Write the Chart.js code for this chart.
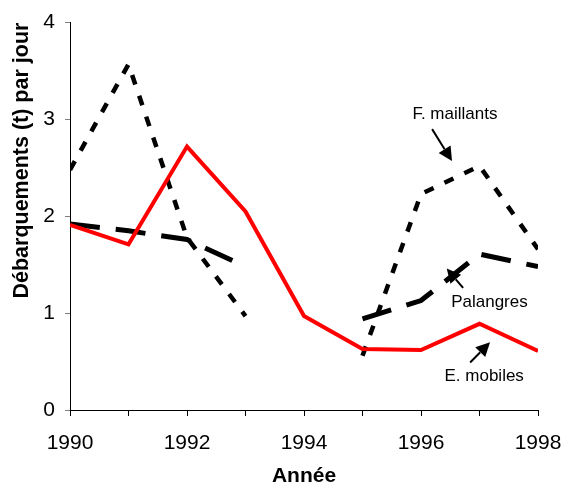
<!DOCTYPE html>
<html><head><meta charset="utf-8">
<script src="https://cdn.jsdelivr.net/npm/chart.js@4"></script>
<style>html,body{margin:0;padding:0;background:#fff}#wrap{width:568px;height:489px}</style>
</head><body><div id="wrap"><canvas id="c" width="568" height="489"></canvas></div>
<script>
const years = [1990,1991,1992,1993,1994,1995,1996,1997,1998];
const eMobiles = [1.91,1.71,2.72,2.05,0.97,0.63,0.62,0.89,0.61];
const fMaillants = [2.48,3.57,1.78,0.97,null,0.56,2.23,2.52,1.66];
const palangres = [1.92,1.85,1.76,1.48,null,0.94,1.13,1.61,1.48];
const xTickLabels = ['1990','1992','1994','1996','1998'];
const yTicks = [0,1,2,3,4];
const annotations = [
  {text:'F. maillants', x:1996.58, y:3.05, from:[1996.19,2.90], to:[1996.53,2.57]},
  {text:'Palangres', x:1997.17, y:1.11, from:[1996.72,1.26], to:[1996.44,1.46]},
  {text:'E. mobiles', x:1997.08, y:0.35, from:[1996.84,0.49], to:[1997.18,0.70]}
];
const toXY = (ys) => years.map((x,i)=>({x:x, y:ys[i]}));
const FONT = '"Liberation Sans", Arial, sans-serif';

const annotPlugin = {
  id:'annot',
  afterDraw(chart){
    const ctx = chart.ctx, xs = chart.scales.x, ys = chart.scales.y;
    ctx.save();
    ctx.font = '17px ' + FONT;
    ctx.fillStyle = '#000'; ctx.textAlign='center'; ctx.textBaseline='middle';
    annotations.forEach(a=>{
      ctx.fillText(a.text, xs.getPixelForValue(a.x), ys.getPixelForValue(a.y));
      const x1=xs.getPixelForValue(a.from[0]), y1=ys.getPixelForValue(a.from[1]);
      const x2=xs.getPixelForValue(a.to[0]), y2=ys.getPixelForValue(a.to[1]);
      const ang=Math.atan2(y2-y1,x2-x1), hl=14, hw=7;
      const bx=x2-hl*Math.cos(ang), by=y2-hl*Math.sin(ang);
      ctx.strokeStyle='#000'; ctx.lineWidth=2;
      ctx.beginPath(); ctx.moveTo(x1,y1); ctx.lineTo(bx,by); ctx.stroke();
      ctx.beginPath(); ctx.moveTo(x2,y2);
      ctx.lineTo(bx+hw*Math.sin(ang), by-hw*Math.cos(ang));
      ctx.lineTo(bx-hw*Math.sin(ang), by+hw*Math.cos(ang));
      ctx.closePath(); ctx.fill();
    });
    ctx.restore();
  }
};

new Chart(document.getElementById('c'), {
  type:'line',
  data:{datasets:[
    {label:'E. mobiles', data:toXY(eMobiles), borderColor:'#ff0000', borderWidth:4, pointRadius:0, spanGaps:false, tension:0},
    {label:'F. maillants', data:toXY(fMaillants), borderColor:'#000', borderWidth:4.5, borderDash:[10,12], pointRadius:0, spanGaps:false, tension:0},
    {label:'Palangres', data:toXY(palangres), borderColor:'#000', borderWidth:5, borderDash:[30,16], pointRadius:0, spanGaps:false, tension:0}
  ]},
  plugins:[annotPlugin],
  options:{
    responsive:false, animation:false, devicePixelRatio:1,
    layout:{padding:{top:20,right:30,left:0,bottom:0}},
    plugins:{legend:{display:false}, tooltip:{enabled:false}},
    scales:{
      x:{type:'linear', min:1990, max:1998,
        afterBuildTicks(s){ s.ticks = years.map(v=>({value:v})); },
        afterFit(s){ s.height = 79; s.paddingLeft = 0; s.paddingRight = 0; },
        ticks:{autoSkip:false, maxRotation:0, color:'#000', padding:15,
          font:{family:FONT, size:21},
          callback(v){ const t=String(v); return xTickLabels.includes(t)?t:''; }},
        grid:{drawOnChartArea:false, drawTicks:true, tickLength:6, color:'#000'},
        border:{color:'#000', width:1},
        title:{display:true, text:'Année', color:'#000', padding:{top:0,bottom:0},
          font:{family:FONT, size:21, weight:'bold'}}
      },
      y:{min:0, max:4,
        afterBuildTicks(s){ s.ticks = yTicks.map(v=>({value:v})); },
        afterFit(s){ s.width = 70; },
        ticks:{color:'#000', padding:10,
          font:{family:FONT, size:21}},
        grid:{drawOnChartArea:false, drawTicks:true, tickLength:5, color:'#808080'},
        border:{color:'#000', width:1},
        title:{display:true, text:'Débarquements (t) par jour', color:'#000', align:'end', padding:{top:9,bottom:0},
          font:{family:FONT, size:21.5, weight:'bold'}}
      }
    }
  }
});
</script></body></html>
